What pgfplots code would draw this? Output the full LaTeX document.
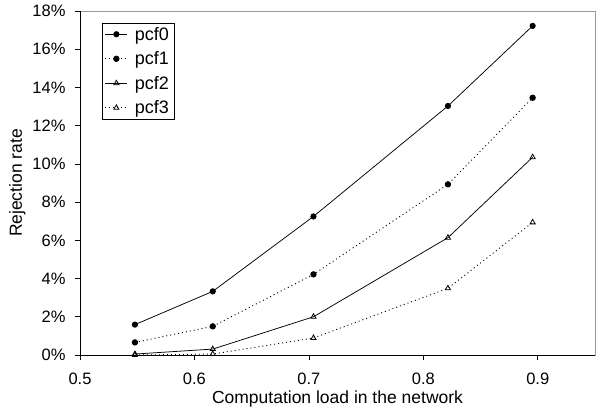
\documentclass[border=0pt]{standalone}
\usepackage{pgfplots}
\pgfplotsset{compat=1.18}
\usepackage{fontspec}
\setmainfont{Liberation Sans}

\begin{document}
\begin{tikzpicture}[x=1pt,y=1pt]
\begin{axis}[
  scale only axis,
  width=515pt, height=344pt,
  xmin=0.5, xmax=0.95,
  ymin=0, ymax=18,
  xtick={0.5,0.6,0.7,0.8,0.9},
  ytick={0,2,4,6,8,10,12,14,16,18},
  /pgf/number format/assume math mode=true,
  xticklabel style={font=\fontsize{16.5}{16.5}\selectfont, /pgf/number format/fixed, /pgf/number format/precision=1, yshift=-9pt},
  yticklabel={\pgfmathprintnumber{\tick}\%},
  yticklabel style={font=\fontsize{16.5}{16.5}\selectfont, xshift=-6pt},
  tick align=outside,
  major tick length=5pt,
  xtick pos=bottom, ytick pos=left,
  tick style={black, line width=0.6pt},
  axis line style={draw=gray!80, line width=0.6pt},
  xlabel={Computation load in the network},
  ylabel={Rejection rate},
  label style={font=\fontsize{17.5}{17.5}\selectfont},
  xlabel style={yshift=0pt},
  legend style={at={(0.042,0.966)}, anchor=north west, draw=black, line width=0.6pt,
    font=\fontsize{18}{18}\selectfont, inner xsep=3pt, inner ysep=2pt, row sep=6pt,
    column sep=5pt, legend cell align=left},
  legend image code/.code={\draw[mark repeat=2,mark phase=2,#1] plot coordinates {(0pt,0pt)(11pt,0pt)(22pt,0pt)};},
  every axis plot/.append style={black, line width=0.75pt},
  clip=false,
]
% black left and bottom spines over the grey frame
\draw[black, line width=0.8pt] (rel axis cs:0,1) -- (rel axis cs:0,0) -- (rel axis cs:1,0);

\addplot[solid, mark=*, mark size=2.7pt, mark options={solid, fill=black}] coordinates {
  (0.548,1.59) (0.616,3.33) (0.704,7.25) (0.8215,13.03) (0.8955,17.22)};
\addlegendentry{pcf0}
\addplot[dash pattern=on 1pt off 3pt, line width=0.9pt, mark=*, mark size=2.7pt, mark options={solid, fill=black}] coordinates {
  (0.548,0.66) (0.616,1.50) (0.704,4.22) (0.8215,8.93) (0.8955,13.46)};
\addlegendentry{pcf1}
\addplot[solid, mark=triangle, mark size=3pt, mark options={solid, line width=0.8pt}] coordinates {
  (0.548,0.05) (0.616,0.31) (0.704,2.00) (0.8215,6.14) (0.8955,10.35)};
\addlegendentry{pcf2}
\addplot[dash pattern=on 1pt off 3pt, line width=0.9pt, mark=triangle, mark size=3pt, mark options={solid, line width=0.8pt}] coordinates {
  (0.548,0.0) (0.616,0.05) (0.704,0.89) (0.8215,3.49) (0.8955,6.94)};
\addlegendentry{pcf3}
\end{axis}
\path (-80pt,-58pt) rectangle (521pt,355pt);
\end{tikzpicture}
\end{document}
